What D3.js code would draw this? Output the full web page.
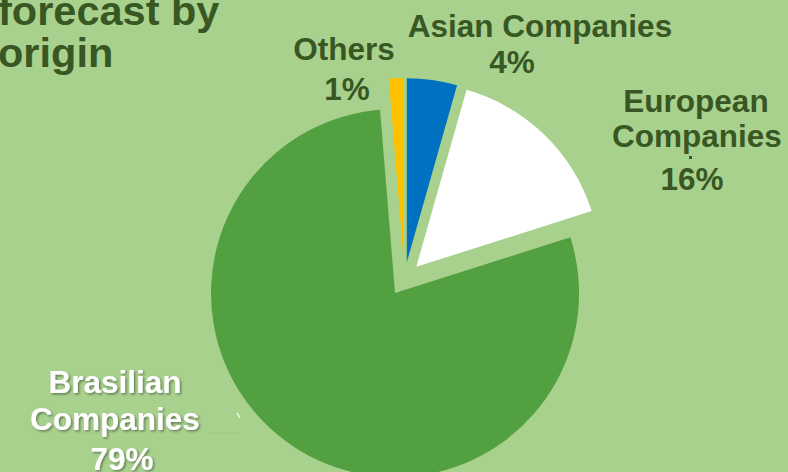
<!DOCTYPE html>
<html>
<head>
<meta charset="utf-8">
<script src="https://cdn.jsdelivr.net/npm/d3@7"></script>
<style>
  html, body { margin: 0; padding: 0; background: #A9D18E; overflow: hidden; }
  svg { display: block; }
  text { font-family: "Liberation Sans", Arial, sans-serif; font-weight: bold; }
</style>
</head>
<body>
<svg id="chart" width="788" height="472"></svg>
<script>
// ---- data ----
const categories = ["Asian Companies", "European Companies", "Brasilian Companies", "Others"];
const shares = [4.4, 15.7, 78.6, 1.3];
const sliceColors = ["#0070C0", "#FFFFFF", "#52A03F", "#FFC000"];
const titleLines = ["forecast by", "origin"];

// ---- label layout (positions only) ----
const labelLayout = [
  { lines: ["Asian Companies", "{p}"], xs: [540, 512], ys: [37, 73], fill: "#385723", shadow: false },
  { lines: ["European", "Companies", "{p}"], xs: [696, 697, 692], ys: [112, 147, 190], fill: "#385723", shadow: false },
  { lines: ["Brasilian", "Companies", "{p}"], xs: [115, 115, 122], ys: [393, 430, 470], fill: "#FFFFFF", shadow: true },
  { lines: ["Others", "{p}"], xs: [344, 347], ys: [60, 100], fill: "#385723", shadow: false }
];

const W = 788, H = 472;
const cx = 404.5, cy = 279, R = 184, explode = 17;
const svg = d3.select("#chart");

svg.append("rect").attr("width", W).attr("height", H).attr("fill", "#A9D18E");

const defs = svg.append("defs");
const f = defs.append("filter").attr("id", "shadow").attr("x", "-20%").attr("y", "-20%").attr("width", "140%").attr("height", "140%");
f.append("feDropShadow").attr("dx", 1.5).attr("dy", 1.5).attr("stdDeviation", 1)
  .attr("flood-color", "#000").attr("flood-opacity", 0.4);

// title (cut off by top-left of frame, as in the reference)
svg.append("g").selectAll("text").data(titleLines).join("text")
  .attr("x", -2).attr("y", (d, i) => 25 + i * 42)
  .attr("font-size", 41.5).attr("fill", "#385723").text(d => d);

const data = categories.map((c, i) => ({ name: c, value: shares[i], color: sliceColors[i] }));
const pie = d3.pie().value(d => d.value).sort(null).startAngle(0).endAngle(2 * Math.PI);
const arc = d3.arc().innerRadius(0).outerRadius(R);
const arcs = pie(data);
const total = d3.sum(shares);

const g = svg.append("g").attr("transform", `translate(${cx},${cy})`);
g.selectAll("path").data(arcs).join("path")
  .attr("d", arc)
  .attr("fill", d => d.data.color)
  .attr("transform", d => {
    const m = (d.startAngle + d.endAngle) / 2;
    return `translate(${Math.sin(m) * explode},${-Math.cos(m) * explode})`;
  });

// leader-line remnants
svg.append("rect").attr("x", 689).attr("y", 156).attr("width", 3).attr("height", 3).attr("fill", "#385723");
svg.append("line").attr("x1", 237).attr("y1", 413).attr("x2", 240).attr("y2", 418)
  .attr("stroke", "#fff").attr("stroke-width", 1.2);
svg.append("line").attr("x1", 210).attr("y1", 433).attr("x2", 240).attr("y2", 433)
  .attr("stroke", "#9cc585").attr("stroke-width", 1);

// labels
const pct = d3.format(".0f");
const lg = svg.append("g");
labelLayout.forEach((L, i) => {
  L.lines.forEach((t, j) => {
    lg.append("text")
      .attr("x", L.xs[j]).attr("y", L.ys[j])
      .attr("text-anchor", "middle")
      .attr("font-size", 31.5)
      .attr("fill", L.fill)
      .attr("filter", L.shadow ? "url(#shadow)" : null)
      .text(t === "{p}" ? pct(shares[i] / total * 100) + "%" : t);
  });
});
</script>
</body>
</html>
